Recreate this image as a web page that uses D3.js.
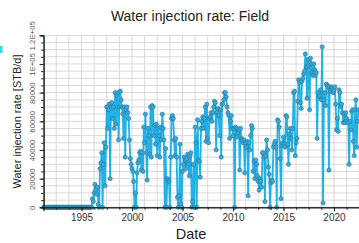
<!DOCTYPE html>
<html><head><meta charset="utf-8">
<script src="https://cdn.jsdelivr.net/npm/d3@7"></script>
<style>
html,body{margin:0;padding:0;background:#fff;overflow:hidden;}
svg{display:block;font-family:Arial,"Liberation Sans",sans-serif;}
</style></head>
<body>
<svg id="c" width="359" height="243"></svg>
<script>
// Monthly water injection rate, thousands of STB/d, starting April 1991
const startDate = [1991, 3]; // year, month index (April)
const zeroMonths = [
  0,0,0,0,0,0,0,0,0,          // 1991 Apr-Dec
  0,0,0,0,0,0,0,0,0,0,0,0,    // 1992
  0,0,0,0,0,0,0,0,0,0,0,0,    // 1993
  0,0,0,0,0,0,0,0,0,0,0,0,    // 1994
  0,0,0,0,0,0,0,0,0,0,0,0     // 1995
];
const rate1996_2003 = [
  0, 6, 4, 10, 16, 12, 9, 14, 2, 0, 27, 31,
  38, 0, 30, 45, 15, 42, 70, 55, 68, 72, 20, 72,
  73, 62, 70, 55, 80, 58, 78, 80, 47, 70, 81, 75,
  70, 65, 48, 70, 35, 68, 70, 66, 62, 47, 34, 30,
  27, 25, 18, 0, 10, 0, 24, 31, 33, 38, 39, 26,
  38, 25, 56, 45, 65, 38, 19, 55, 50, 37, 70, 35,
  71, 70, 50, 57, 44, 58, 36, 55, 50, 35, 56, 47,
  65, 55, 47, 0, 41, 0, 20, 19, 18, 0, 35, 62
];
const rate2004_2011 = [
  64, 62, 47, 36, 48, 35, 7, 0, 8, 44, 2, 0,
  25, 30, 35, 33, 27, 34, 37, 30, 22, 36, 38, 0,
  4, 30, 0, 56, 45, 0, 61, 33, 32, 21, 55, 60,
  63, 55, 62, 70, 46, 72, 48, 45, 62, 63, 66, 60,
  66, 70, 74, 73, 40, 66, 69, 64, 50, 68, 35, 72,
  72, 75, 80, 80, 77, 70, 66, 64, 48, 60, 64, 55,
  50, 55, 0, 56, 49, 55, 52, 54, 26, 55, 48, 47,
  45, 47, 24, 45, 42, 46, 8, 45, 40, 50, 57, 55
];
const rate2012_2022 = [
  25, 32, 20, 33, 30, 22, 18, 12, 20, 18, 14, 38,
  38, 35, 4, 36, 47, 40, 28, 23, 0, 17, 19, 18,
  42, 44, 46, 42, 0, 61, 60, 56, 34, 6, 43, 45,
  49, 44, 42, 64, 63, 44, 30, 51, 55, 48, 40, 55,
  80, 81, 36, 45, 48, 74, 89, 87, 73, 69, 88, 90,
  93, 95, 107, 98, 76, 103, 99, 68, 104, 100, 94, 92,
  100, 96, 92, 94, 48, 80, 77, 78, 82, 75, 112, 3,
  75, 80, 71, 86, 85, 84, 26, 84, 81, 84, 83, 80,
  82, 84, 72, 54, 62, 53, 82, 80, 70, 72, 66, 59,
  65, 59, 66, 62, 60, 59, 30, 60, 54, 67, 68, 46,
  36, 68, 75, 42, 60, 68
];
const yTicks = [0, 20000, 40000, 60000, 80000, 100000, 120000];
const yTickLabels = ["0", "20000", "40000", "60000", "80000", "1E+05", "1.2E+05"];
const xTickYears = [1995, 2000, 2005, 2010, 2015, 2020];

const allRates = zeroMonths.concat(rate1996_2003, rate2004_2011, rate2012_2022);
const data = allRates.map((v, i) => ({
  date: new Date(startDate[0], startDate[1] + i, 1),
  value: v * 1000
}));

const svg = d3.select("#c");
const L = 43.6, R = 364.3, T = 35.3, B = 207.3;
const x = d3.scaleTime()
  .domain([new Date(1991, 3, 1), new Date(2023, 0, 1)])
  .range([L, R]);
const y = d3.scaleLinear().domain([0, 120000]).range([B, T]);

// minor grid: every 15 months, every 5000
const vGrid = [];
for (let m = 0; ; m += 15) {
  const d = new Date(1991, 3 + m, 1);
  if (d > new Date(2023, 0, 1)) break;
  vGrid.push(d);
}
const hGrid = d3.range(0, 120001, 5000);

const g = svg.append("g");
g.selectAll("line.vg").data(vGrid).enter().append("line")
  .attr("x1", d => x(d)).attr("x2", d => x(d))
  .attr("y1", T).attr("y2", B)
  .attr("stroke", "#d9d9d9").attr("stroke-width", 1);
g.selectAll("line.hg").data(hGrid).enter().append("line")
  .attr("x1", L).attr("x2", 359)
  .attr("y1", d => y(d)).attr("y2", d => y(d))
  .attr("stroke", "#d9d9d9").attr("stroke-width", 1);

// axes
const xAxisMinor = d3.axisBottom(x).tickValues(vGrid).tickSize(2.5).tickFormat("");
const xAxis = d3.axisBottom(x)
  .tickValues(xTickYears.map(yr => new Date(yr, 0, 1)))
  .tickSize(4).tickPadding(3)
  .tickFormat(d3.timeFormat("%Y"));
const yAxisMinor = d3.axisLeft(y).tickValues(hGrid).tickSize(2.5).tickFormat("");
const yAxis = d3.axisLeft(y).tickValues(yTicks).tickSize(4)
  .tickFormat((d, i) => yTickLabels[i]);

// data
const clip = svg.append("clipPath").attr("id", "pc").append("rect")
  .attr("x", L - 3).attr("y", T - 5).attr("width", 359 - L + 5).attr("height", B - T + 8);
const plot = svg.append("g").attr("clip-path", "url(#pc)");
plot.append("path").datum(data)
  .attr("fill", "none").attr("stroke", "#1fb1e8").attr("stroke-width", 1.8)
  .attr("stroke-linejoin", "round")
  .attr("d", d3.line().x(d => x(d.date)).y(d => y(d.value)));
plot.selectAll("circle").data(data).enter().append("circle")
  .attr("cx", d => x(d.date)).attr("cy", d => y(d.value)).attr("r", 2.1)
  .attr("fill", "#33abdc").attr("stroke", "#2c7593").attr("stroke-width", 0.6);

const gx = svg.append("g").attr("transform", `translate(0,${B})`);
gx.append("g").call(xAxisMinor);
gx.append("g").call(xAxis);
gx.selectAll(".domain").attr("stroke", "#222");
gx.selectAll("line").attr("stroke", "#222");
gx.selectAll("text").attr("font-size", 10).attr("fill", "#333")
  .attr("font-family", "Arial, Liberation Sans, sans-serif");

const gy = svg.append("g").attr("transform", `translate(${L},0)`);
gy.append("g").call(yAxisMinor);
const gyMaj = gy.append("g").call(yAxis);
gy.selectAll(".domain").attr("stroke", "#222");
gy.selectAll("line").attr("stroke", "#222");
gyMaj.selectAll("text")
  .attr("font-size", 7.8).attr("fill", "#555")
  .attr("font-family", "Arial, Liberation Sans, sans-serif")
  .attr("text-anchor", "middle")
  .attr("x", null).attr("dy", null)
  .attr("transform", "translate(-11.5,0) rotate(-90)")
  .attr("dy", "0.35em");

// titles
svg.append("text").attr("x", 190).attr("y", 21)
  .attr("text-anchor", "middle").attr("font-size", 14).attr("fill", "#222")
  .text("Water injection rate: Field");
svg.append("text").attr("x", 191).attr("y", 239)
  .attr("text-anchor", "middle").attr("font-size", 14.5).attr("fill", "#222")
  .text("Date");
svg.append("text")
  .attr("transform", "translate(21,121.5) rotate(-90)")
  .attr("text-anchor", "middle").attr("font-size", 11).attr("fill", "#222")
  .text("Water injection rate [STB/d]");

// small cyan mark at left edge
svg.append("rect").attr("x", 0).attr("y", 46).attr("width", 2.5).attr("height", 7)
  .attr("fill", "#2fd6e8");
</script>
</body></html>
